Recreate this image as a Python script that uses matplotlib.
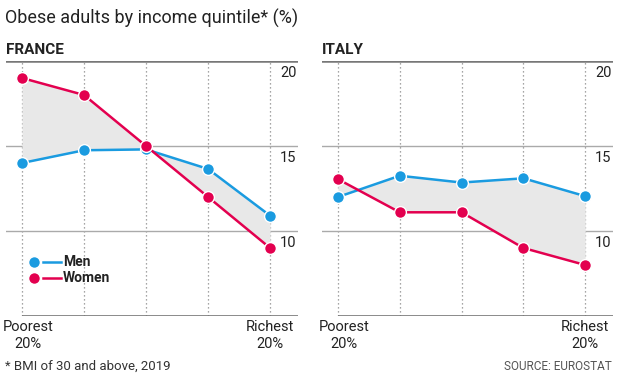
import matplotlib
matplotlib.use("Agg")
import matplotlib.pyplot as plt
import matplotlib.transforms as mtransforms

plt.rcParams['font.family'] = ['Roboto', 'DejaVu Sans']

# === データ ===
quintiles = [0, 1, 2, 3, 4]
france_men = [14.0, 14.75, 14.8, 13.65, 10.9]
france_women = [19.0, 18.0, 15.0, 12.0, 9.0]
italy_men = [12.0, 13.25, 12.85, 13.1, 12.05]
italy_women = [13.05, 11.1, 11.1, 9.0, 8.0]
y_ticks = [10, 15, 20]
x_labels = ["Poorest\n20%", "Richest\n20%"]

BLUE = "#1a9be0"
RED = "#e3004f"
FILL = "#e8e8e8"
GRID = "#aaaaaa"

W, H = 620, 379
fig = plt.figure(figsize=(W / 100, H / 100), dpi=100)

def px_axes(left, top, right, bottom):
    return fig.add_axes([left / W, 1 - bottom / H, (right - left) / W, (bottom - top) / H])

def draw_panel(ax, name, men, women, legend=False):
    ax.set_xlim(-0.258, 4.45)
    ax.set_ylim(5, 20)
    ax.axis("off")

    # グリッド
    for x in quintiles:
        ax.axvline(x, color="#888888", lw=0.9, ls=(0, (1, 2.2)), zorder=0)
    for y in y_ticks[:-1]:
        ax.axhline(y, color=GRID, lw=1.0, zorder=0)
    ax.axhline(20, color="#777777", lw=1.8, zorder=0)
    ax.hlines(5, quintiles[0], 4.45, color="#777777", lw=1.2, zorder=0)

    trans = mtransforms.blended_transform_factory(ax.transAxes, ax.transData)
    for y in y_ticks:
        ax.text(0.995, y - 0.3, str(y), transform=trans, ha="right", va="top",
                fontsize=10.5, color="#222222")

    ax.fill_between(quintiles, men, women, color=FILL, zorder=1, lw=0)
    ax.plot(quintiles, men, color=BLUE, lw=1.8, marker="o", ms=8.5,
            mec="white", mew=1.0, zorder=3)
    ax.plot(quintiles, women, color=RED, lw=1.8, marker="o", ms=8.5,
            mec="white", mew=1.0, zorder=3)

    ax.text(quintiles[0] + 0.1, 4.75, x_labels[0], ha="center", va="top",
            fontsize=10.5, color="#222222", linespacing=1.25)
    ax.text(quintiles[-1], 4.75, x_labels[1], ha="center", va="top",
            fontsize=10.5, color="#222222", linespacing=1.25)

    ax.text(-0.258, 20.65, name, ha="left", va="center", fontsize=11,
            fontweight="bold", color="#222222")

    if legend:
        for y, c, lab in [(0.213, BLUE, "Men"), (0.149, RED, "Women")]:
            ax.plot([0.096], [y], transform=ax.transAxes, marker="o", ms=8.5,
                    color=c, mec="white", mew=1.0, clip_on=False)
            ax.plot([0.125, 0.188], [y, y], transform=ax.transAxes, color=c,
                    lw=1.8, clip_on=False)
            ax.text(0.195, y, lab, transform=ax.transAxes, ha="left", va="center",
                    fontsize=10, fontweight="bold", color="#222222")

ax1 = px_axes(6, 61, 298, 316)
ax2 = px_axes(322, 61, 613, 316)
draw_panel(ax1, "FRANCE", france_men, france_women, legend=True)
draw_panel(ax2, "ITALY", italy_men, italy_women)

fig.text(5 / W, 1 - 18 / H, "Obese adults by income quintile* (%)", ha="left",
         va="center", fontsize=13, color="#222222")
fig.text(5 / W, 1 - 366 / H, "* BMI of 30 and above, 2019", ha="left",
         va="center", fontsize=9.5, color="#333333")
fig.text(612 / W, 1 - 366 / H, "SOURCE: EUROSTAT", ha="right", va="center",
         fontsize=8.5, color="#555555")

fig.savefig("out.png", dpi=100)
